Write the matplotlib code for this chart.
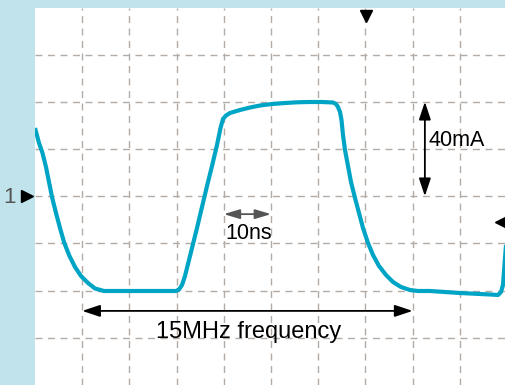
import matplotlib
matplotlib.use("Agg")
import matplotlib.pyplot as plt
import numpy as np

plt.rcParams['font.family'] = ['Liberation Sans', 'DejaVu Sans']

# Waveform, in pixels of the 471x377 graticule area
# (converted to divisions below: 47.2 px per division)
wave_px_x = [35, 39, 42.5, 46, 49, 52, 56, 60, 64, 69, 75, 81, 88, 95, 104,
             140, 176, 179, 182, 185, 188, 192, 197, 202, 207, 212, 217, 220.5, 223,
             226, 230, 240, 250, 260, 272, 285, 297, 310, 322, 333, 336, 338,
             340, 341.5, 343, 345, 348, 351, 355, 359, 363, 368, 373, 379, 386,
             393, 401, 410, 418, 430, 460, 490, 498, 501, 503, 504.5, 506, 508]
wave_px_y = [128, 143, 153, 167, 182, 197, 213, 228, 242, 255, 267, 276, 283, 288.5, 291,
             291, 291, 289.5, 285, 276, 264, 248, 228, 207, 186, 166, 145, 128, 119,
             115.5, 113, 110, 107.5, 105.5, 104, 103, 102.3, 102, 102, 102.5, 104, 107,
             112, 120, 135, 150, 166, 182, 198, 213, 228, 243, 255, 266, 275,
             282, 287, 290, 291, 291, 293, 294.5, 295, 292, 285, 265, 245, 220]

PX_PER_DIV = 47.2
time_div = [(x - 35) / PX_PER_DIV for x in wave_px_x]
signal_div = [(385 - y) / PX_PER_DIV for y in wave_px_y]

label_10ns = "10ns"
label_40mA = "40mA"
label_freq = "15MHz frequency"
channel_label = "1"

bg = "#c1e3eb"
line_color = "#00a5c6"
grid_color = "#b3aca6"

fig = plt.figure(figsize=(5.06, 3.85), dpi=100)
fig.patch.set_facecolor(bg)
ax = fig.add_axes([35 / 506, 0, 471 / 506, 377 / 385])
ax.set_facecolor("white")
ax.set_xlim(0, 471 / PX_PER_DIV)
ax.set_ylim(0, 377 / PX_PER_DIV)
ax.set_xticks(np.arange(1, 10))
ax.set_yticks(np.arange(1, 8))
ax.tick_params(left=False, bottom=False, labelleft=False, labelbottom=False)
for s in ax.spines.values():
    s.set_visible(False)
ax.grid(True, color=grid_color, linestyle=(0, (5, 4)), linewidth=1.0)

ax.plot(time_div, signal_div, color=line_color, linewidth=3.0, solid_capstyle='butt',
        solid_joinstyle='round', zorder=3)

# 10ns arrow
ax.annotate("", xy=(4.0, 3.62), xytext=(5.0, 3.62),
            arrowprops=dict(arrowstyle="<|-|>,head_length=0.6,head_width=0.18",
                            color="#555555", lw=1.3,
                            mutation_scale=16, shrinkA=0, shrinkB=0))
ax.text(4.52, 3.2, label_10ns, ha="center", va="center", fontsize=15.5, color="black")

# 40mA arrow
ax.annotate("", xy=(8.26, 6.0), xytext=(8.26, 4.0),
            arrowprops=dict(arrowstyle="<|-|>,head_length=0.6,head_width=0.2",
                            color="black", lw=1.3,
                            mutation_scale=18, shrinkA=0, shrinkB=0))
ax.text(8.33, 5.19, label_40mA, ha="left", va="center", fontsize=15.5, color="black")

# 15MHz arrow
ax.annotate("", xy=(1.0, 1.57), xytext=(8.0, 1.57),
            arrowprops=dict(arrowstyle="<|-|>,head_length=0.6,head_width=0.2",
                            color="black", lw=1.3,
                            mutation_scale=18, shrinkA=0, shrinkB=0))
ax.text(4.53, 1.13, label_freq, ha="center", va="center", fontsize=17, color="black")

# markers
ax.plot([-0.16], [4.0], marker=">", markersize=8, color="black", clip_on=False, zorder=5)
ax.text(-0.55, 3.98, channel_label, ha="center", va="center", fontsize=16, color="#555555",
        clip_on=False)
ax.plot([7.01], [7.82], marker="v", markersize=9, color="black", clip_on=False, zorder=5)
ax.plot([9.87], [3.46], marker="<", markersize=9, color="black", clip_on=False, zorder=5)

fig.savefig("out.png", dpi=100, facecolor=bg)
